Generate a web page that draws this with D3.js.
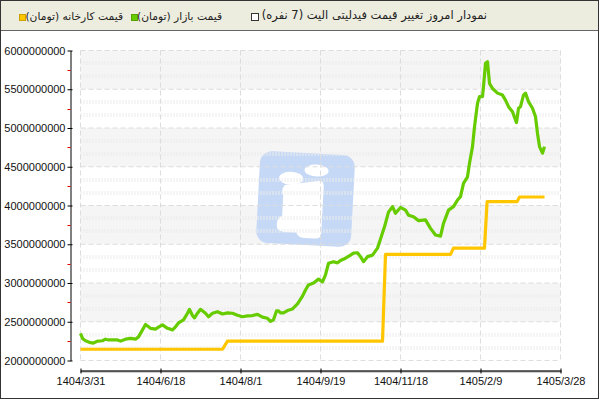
<!DOCTYPE html>
<html><head><meta charset="utf-8">
<script src="https://cdn.jsdelivr.net/npm/d3@7"></script>
<style>
body{margin:0;background:#fff;}
#wrap{position:relative;width:600px;height:400px;overflow:hidden;background:#fff;}
#chart{position:absolute;left:0;top:0;}
#frame{position:absolute;left:0;top:0;width:597px;height:397px;border:1px solid #333;pointer-events:none;}
#header{position:absolute;left:1px;top:1px;width:597px;height:29px;background:#ededdf;border-bottom:1px solid #666;}
.lbl{position:absolute;top:9px;font:11.5px "DejaVu Sans",sans-serif;direction:rtl;white-space:nowrap;color:#222;line-height:13px;}
.lbl.leg{font-size:10.7px;top:9.5px;}
.sq{position:absolute;width:5px;height:5px;top:15px;}
.box{position:absolute;width:6px;height:6px;top:13px;border:1px solid #333;background:#fff;}
</style>
</head><body>
<div id="wrap">
<svg id="chart" width="600" height="400"></svg>
<div id="header"></div>
<div id="frame"></div>
</div>
<script>
// ---- data ----
const titleText = "نمودار امروز تغییر قیمت فیدلیتی الیت (7 نفره)";
const seriesNames = ["قیمت کارخانه (تومان)", "قیمت بازار (تومان)"];
const xTickLabels = ["1404/3/31","1404/6/18","1404/8/1","1404/9/19","1404/11/18","1405/2/9","1405/3/28"];
const xTickDays = [0,40,80,120,160,200,240];
const yTicks = [2000000000,2500000000,3000000000,3500000000,4000000000,4500000000,5000000000,5500000000,6000000000];
const yMinorTicks = [2250000000,2750000000,3250000000,3750000000,4250000000,4750000000,5250000000,5750000000];

const marketDay = [0,1,2.5,5,6.5,8.5,11,12.5,14,16,18.5,20,22.5,25,27.5,29,31,32.5,35,37.5,
39,41,43.5,46,47.5,49,51.5,53.5,54.5,56,57,58.5,60,62.5,64,66,68.5,71,73.5,76,
78.5,81,83.5,86,88.5,91,93.5,95,96.5,98,99,100,101.5,103.5,106,108.5,111,112.5,114,116.5,
119,121,122.5,124,126.5,128.5,130,132.5,135,136.5,138.5,140,141.5,143.5,146,148.5,150.5,152,154,156,
157.5,160,162.5,164,166.5,169,172.5,175,177.5,180,181.5,184,186.5,188.5,190,191.5,193.5,194.5,196,197,
198.5,199.5,201,201.5,202.5,203.5,204.5,206,208.5,211,212.5,214,216,218,219,220,221.5,222.5,224,226,
227.5,228.5,229.5,231,232];
const marketPrice = [2350,2285,2255,2230,2225,2250,2255,2275,2265,2265,2265,2250,2275,2285,2275,2305,2395,2465,2415,2405,
2430,2460,2415,2395,2435,2485,2525,2610,2660,2580,2550,2610,2660,2610,2565,2610,2630,2600,2615,2610,
2585,2565,2575,2580,2595,2560,2545,2505,2525,2640,2640,2615,2615,2645,2665,2730,2830,2910,2975,3000,
3050,3015,3105,3255,3275,3260,3290,3320,3360,3385,3390,3340,3275,3340,3360,3450,3605,3725,3915,3985,
3900,3975,3940,3875,3855,3805,3815,3705,3620,3605,3770,3940,3985,4070,4115,4285,4370,4545,4760,5015,
5320,5405,5405,5535,5835,5855,5575,5510,5450,5425,5360,5275,5210,5070,5255,5275,5425,5450,5340,5255,
5145,4930,4760,4675,4760];

const factoryDay = [0,71,73.5,151,152.5,185,186.5,202,203.3,218.3,219.5,232];
const factoryPrice = [2145,2145,2250,2250,3370,3370,3450,3450,4050,4050,4110,4110];

const colors = {factory:"#ffc600", market:"#66cc00"};

// ---- header ----
const header = d3.select("#wrap");
const leg = [
  {name: seriesNames[0], sq: 20, right: 123, color: colors.factory},
  {name: seriesNames[1], sq: 132, right: 222, color: colors.market}
];
leg.forEach(l => {
  header.append("div").attr("class","sq").style("left", l.sq+"px").style("background", l.color)
    .style("outline","1px solid " + d3.color(l.color).darker(0.6));
  header.append("div").attr("class","lbl leg").style("right", (600-l.right)+"px").text(l.name);
});
header.append("div").attr("class","box").style("left","251px");
header.append("div").attr("class","lbl").style("right",(600-487)+"px").text(titleText);

// ---- chart ----
const svg = d3.select("#chart");
const x = d3.scaleLinear().domain([0,240]).range([80.5,560.5]);
const y = d3.scaleLinear().domain([2000000000,6000000000]).range([360.5,50.5]);
const V = v => v*1e6;
const tickFont = "'Liberation Sans', Arial, sans-serif";

const plot = svg.append("g");
// bands
for (let i = 0; i < yTicks.length-1; i++) {
  if (i % 2 === 1) {
    plot.append("rect").attr("x", x(0)).attr("width", x(240)-x(0))
      .attr("y", y(yTicks[i+1])).attr("height", y(yTicks[i]) - y(yTicks[i+1]))
      .attr("fill","#f5f5f5");
  }
}
// logo watermark
const logo = plot.append("g").attr("transform","rotate(3,305,200)");
logo.append("rect").attr("x",258).attr("y",153).attr("width",95).attr("height",92).attr("rx",12).attr("fill","#c5d8f6");
logo.append("ellipse").attr("cx",315).attr("cy",170).attr("rx",12).attr("ry",6).attr("fill","#fff");
logo.append("ellipse").attr("cx",290).attr("cy",179).attr("rx",12).attr("ry",6.5).attr("fill","#fff");
logo.append("path").attr("fill","#fff")
  .attr("d","M284,186 L319,180 Q323,180 323,186 L323,232 Q323,238 317,238 L306,238 Q300,238 298,233 L286,233 Q278,233 278,226 Q278,219 283,217 L283,196 Q280,192 284,186 Z");

// minor texture rows
const minorRows = [];
for (let i = 0; i < yTicks.length-1; i++) {
  const step = (yTicks[i+1]-yTicks[i])/3;
  minorRows.push(yTicks[i]+step, yTicks[i]+2*step);
}
plot.selectAll(".mrow").data(minorRows).join("line")
  .attr("x1", x(0)).attr("x2", x(240))
  .attr("y1", d => Math.round(y(d))).attr("y2", d => Math.round(y(d)))
  .attr("stroke","#ececec").attr("stroke-width",4).attr("stroke-dasharray","1,2");
// gridlines
plot.selectAll(".hg").data(yTicks).join("line")
  .attr("x1", x(0)).attr("x2", x(240)).attr("y1", d => y(d)).attr("y2", d => y(d))
  .attr("stroke","#dcdcdc").attr("stroke-dasharray","5,3");
plot.selectAll(".vg").data(xTickDays).join("line")
  .attr("y1", y(6000000000)).attr("y2", y(2000000000)).attr("x1", d => x(d)).attr("x2", d => x(d))
  .attr("stroke","#dcdcdc").attr("stroke-dasharray","5,3");

// lines
const line = d3.line().x(d => x(d[0])).y(d => y(V(d[1])));
plot.append("path").datum(factoryDay.map((d,i)=>[d,factoryPrice[i]]))
  .attr("d", line).attr("fill","none").attr("stroke",colors.factory).attr("stroke-width",3.2).attr("stroke-linejoin","round");
plot.append("path").datum(marketDay.map((d,i)=>[d,marketPrice[i]]))
  .attr("d", line).attr("fill","none").attr("stroke",colors.market).attr("stroke-width",3.2).attr("stroke-linejoin","round");

// y axis
const yAxis = svg.append("g").attr("transform","translate(70.5,0)")
  .call(d3.axisLeft(y).tickValues(yTicks).tickFormat(d3.format("d")).tickSize(3).tickPadding(2).tickSizeOuter(0));
yAxis.select(".domain").attr("stroke","#000");
yAxis.selectAll(".tick line").attr("x2",-3).attr("x1",2).attr("stroke","#000");
yAxis.selectAll("text").attr("font-family",tickFont).attr("font-size",11).attr("fill","#111");
yAxis.selectAll(".mtick").data(yMinorTicks).join("line").attr("class","mtick")
  .attr("x1",-3).attr("x2",0).attr("y1", d => Math.round(y(d))+0.5).attr("y2", d => Math.round(y(d))+0.5)
  .attr("stroke","#e00000");

// x axis
const xg = svg.append("g").attr("transform","translate(0,370.5)");
xg.call(d3.axisBottom(x).tickValues(d3.range(0,241,1)).tickFormat("").tickSize(2).tickSizeOuter(0))
  .selectAll(".tick line").attr("stroke","#444");
xg.select(".domain").remove();
const xAxis = svg.append("g").attr("transform","translate(0,370.5)")
  .call(d3.axisBottom(x).tickValues(xTickDays).tickFormat((d,i)=>xTickLabels[i]).tickSize(3).tickPadding(4).tickSizeOuter(0));
xAxis.select(".domain").attr("stroke","#000");
xAxis.selectAll(".tick line").attr("y1",-2).attr("stroke","#000");
xAxis.selectAll("text").attr("font-family",tickFont).attr("font-size",11).attr("fill","#111");
</script>
</body></html>
